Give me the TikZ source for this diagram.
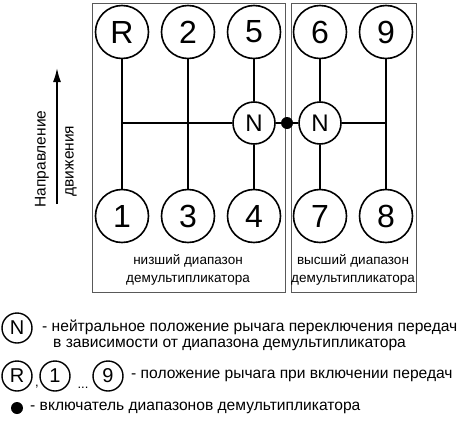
\documentclass[tikz,border=0pt]{standalone}
\usepackage{fontspec}
\setmainfont{Liberation Sans}
\usetikzlibrary{arrows.meta}

\begin{document}
\begin{tikzpicture}[x=1pt, y=-1pt,
    gear/.style={circle, draw, line width=1.6pt, minimum size=53pt, inner sep=0pt,
        font=\fontsize{32}{34}\selectfont},
    neutral/.style={circle, draw, line width=1.6pt, minimum size=42pt, inner sep=0pt,
        font=\fontsize{24}{26}\selectfont},
    keygear/.style={circle, draw, line width=1.4pt, minimum size=30pt, inner sep=0pt,
        font=\fontsize{20}{22}\selectfont},
    rod/.style={line width=1.6pt},
    rangebox/.style={draw=black!65, line width=0.8pt},
    rangelabel/.style={align=center, font=\fontsize{13.5}{18}\selectfont},
    legendtext/.style={anchor=west, font=\fontsize{15.6}{17}\selectfont, inner sep=0pt}]
\useasboundingbox (0,0) rectangle (462,420);

\draw[rangebox] (92,3) rectangle (285,292);
\draw[rangebox] (291,3) rectangle (416,292);

\node[gear] (gR) at (122,32) {R};
\node[gear] (g2) at (188,32) {2};
\node[gear] (g5) at (254,32) {5};
\node[gear] (g6) at (320,32) {6};
\node[gear] (g9) at (386,32) {9};
\node[gear] (g1) at (122,216) {1};
\node[gear] (g3) at (188,216) {3};
\node[gear] (g4) at (254,216) {4};
\node[gear] (g7) at (320,216) {7};
\node[gear] (g8) at (386,216) {8};
\node[neutral] (nlow) at (254,123) {N};
\node[neutral] (nhigh) at (320,123) {N};
\node[circle, fill, minimum size=12pt, inner sep=0pt] (switch) at (287,123) {};

\draw[rod] (gR) -- (g1);
\draw[rod] (g2) -- (g3);
\draw[rod] (g5) -- (nlow);
\draw[rod] (nlow) -- (g4);
\draw[rod] (g6) -- (nhigh);
\draw[rod] (nhigh) -- (g7);
\draw[rod] (g9) -- (g8);
\draw[rod] (nlow) -- (nlow -| g1);
\draw[rod] (nhigh) -- (nhigh -| g8);
\draw[rod] (nlow) -- (switch) -- (nhigh);

\node[rangelabel] (lowlabel) at (188,270) {низший диапазон\\демультипликатора};
\node[rangelabel] (highlabel) at (353,270) {высший диапазон\\демультипликатора};

\coordinate (dirfrom) at (57,204);
\coordinate (dirto) at (57,68);
\draw[line width=1.6pt, -{Latex[length=14pt, width=8pt]}] (dirfrom) -- (dirto);
\node[rotate=90, font=\fontsize{15.5}{17}\selectfont] (dirtext1) at (42,159) {Направление};
\node[rotate=90, font=\fontsize{15.5}{17}\selectfont] (dirtext2) at (71,161) {движения};

\node[keygear] (keyN) at (17,328) {N};
\node[legendtext] (keyNtext) at (42,327) {- нейтральное положение рычага переключения передач};
\node[legendtext] (keyNtext2) at (53,345) {в зависимости от диапазона демультипликатора};

\node[keygear] (keyR) at (17,376) {R};
\node[keygear] (key1) at (55,376) {1};
\node[keygear] (key9) at (108,376) {9};
\node[font=\fontsize{13}{13}\selectfont, inner sep=0pt] (keycomma) at (37,387) {,};
\node[font=\fontsize{13}{13}\selectfont, inner sep=0pt] (keydots) at (83,388) {...};
\node[legendtext] (keyRtext) at (131,376) {- положение рычага при включении передач};

\node[circle, fill, minimum size=12pt, inner sep=0pt] (keyswitch) at (17,408) {};
\node[legendtext] (keyswitchtext) at (30,408) {- включатель диапазонов демультипликатора};

\end{tikzpicture}
\end{document}
